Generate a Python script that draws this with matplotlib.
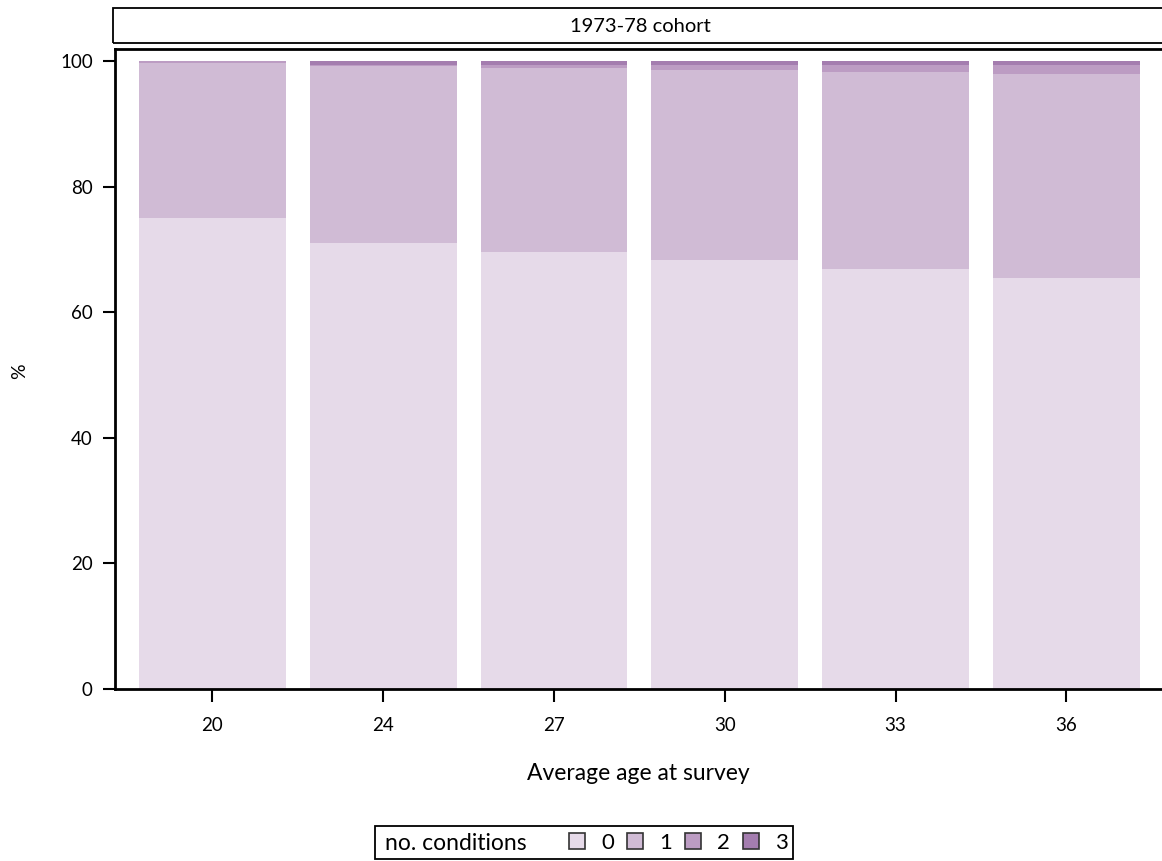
import numpy as np
import matplotlib.pyplot as plt
from matplotlib.lines import Line2D
from matplotlib.patches import Rectangle

plt.rcParams['font.family'] = ['Lato', 'DejaVu Sans']

# data
ages = ['20', '24', '27', '30', '33', '36']
levels = ['0', '1', '2', '3']
pct0 = [75.0, 71.0, 69.6, 68.3, 66.9, 65.4]
pct1 = [24.7, 28.2, 29.3, 30.3, 31.4, 32.5]
pct2 = [0.3, 0.2, 0.5, 0.8, 1.1, 1.4]
pct3 = [0.0, 0.6, 0.6, 0.6, 0.6, 0.7]
colors = ['#e6dae9', '#d0bbd5', '#bc9cc3', '#a47daf']

W, H = 1162, 861
fig = plt.figure(figsize=(W / 100, H / 100), dpi=100)
ax = fig.add_axes([115 / W, 172 / H, (W - 115) / W, 640 / H])

x = np.arange(len(ages))
bottom = np.zeros(len(ages))
for vals, c in zip([pct0, pct1, pct2, pct3], colors):
    ax.bar(x, vals, width=0.86, bottom=bottom, color=c, linewidth=0)
    bottom += np.array(vals)

ax.set_xlim(-0.57, 5.56)
ax.set_ylim(0, 101.9)
ax.set_xticks(x)
ax.set_xticklabels(ages)
ax.set_yticks([0, 20, 40, 60, 80, 100])
ax.tick_params(axis='both', labelsize=13.5, length=9, width=1.5, direction='out')
ax.tick_params(axis='x', pad=11)
ax.tick_params(axis='y', pad=7)
ax.spines['right'].set_visible(False)
for s in ['left', 'bottom', 'top']:
    ax.spines[s].set_linewidth(2)

# axis titles
fig.text(638 / W, 1 - 780 / H, 'Average age at survey', fontsize=16.5, ha='center', va='baseline')
fig.text(20 / W, 1 - 371 / H, '%', rotation=90, fontsize=14, ha='center', va='center')

# strip title
fig.patches.append(Rectangle((113 / W, 1 - 43 / H), (W - 110) / W, 35 / H,
                             transform=fig.transFigure, fill=False, lw=1.3, ec='black'))
fig.text(640 / W, 1 - 26 / H, '1973-78 cohort', fontsize=14.5, ha='center', va='center')

# legend
fig.patches.append(Rectangle((375 / W, 1 - 859 / H), 418 / W, 33 / H,
                             transform=fig.transFigure, fill=False, lw=1.3, ec='black'))
fig.text(385 / W, 1 - 843 / H, 'no. conditions', fontsize=16.5, ha='left', va='center')
handles = [Line2D([], [], marker='s', linestyle='none', markersize=11,
                  markerfacecolor=c, markeredgecolor='#333333', markeredgewidth=1.2)
           for c in colors]
fig.legend(handles, levels, ncol=4, loc='center left', bbox_to_anchor=(548 / W, 1 - 843 / H),
           frameon=False, fontsize=16, handlelength=0.8, handletextpad=0.68,
           columnspacing=0.55, borderpad=0.4)

fig.savefig('out.png', dpi=100)
